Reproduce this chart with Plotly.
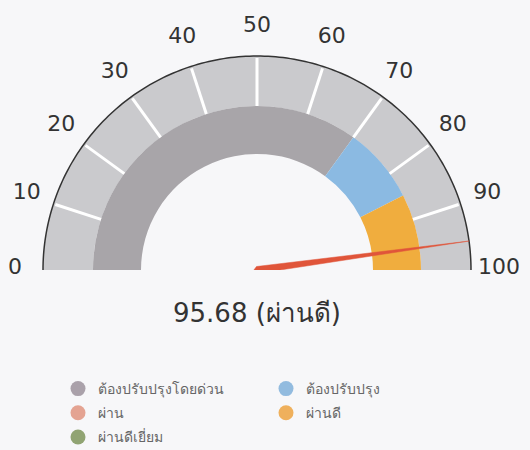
import math
import plotly.graph_objects as go

# ---------------- data ----------------
categories = ["ต้องปรับปรุงโดยด่วน", "ต้องปรับปรุง", "ผ่าน", "ผ่านดี", "ผ่านดีเยี่ยม"]
band_categories = ["ต้องปรับปรุงโดยด่วน", "ต้องปรับปรุง", "ผ่านดี"]
band_starts = [0, 70, 85]
band_ends = [70, 85, 100]
tick_values = [0, 10, 20, 30, 40, 50, 60, 70, 80, 90, 100]
tick_labels = ["0", "10", "20", "30", "40", "50", "60", "70", "80", "90", "100"]
score = 95.68
score_label = "ผ่านดี"

# ---------------- styles ----------------
VMIN, VMAX = 0, 100
DEG = 180.0 / (VMAX - VMIN)
R_OUT, R_MID, R_IN = 214, 164, 116
R_LABEL = 242
LABEL_LIFT = 2
R_RANGE = 255
CX, CY = 257, 270  # pixel centre of the gauge
cat_colors = {
    "ต้องปรับปรุงโดยด่วน": "#a8a5a9",
    "ต้องปรับปรุง": "#8bbae2",
    "ผ่าน": "#e4a08e",
    "ผ่านดี": "#f0ad3e",
    "ผ่านดีเยี่ยม": "#8fa36e",
}
legend_colors = {
    "ต้องปรับปรุงโดยด่วน": "#aaa1aa",
    "ต้องปรับปรุง": "#92bbdf",
    "ผ่าน": "#e4a392",
    "ผ่านดี": "#efb05c",
    "ผ่านดีเยี่ยม": "#91a473",
}
legend_col = {
    "ต้องปรับปรุงโดยด่วน": "legend",
    "ต้องปรับปรุง": "legend2",
    "ผ่าน": "legend",
    "ผ่านดี": "legend2",
    "ผ่านดีเยี่ยม": "legend",
}
LIGHT = "#cacacd"
NEEDLE = "#e0553a"
BG = "#f7f7f9"
FONT = "DejaVu Sans, Noto Sans, sans-serif"


def ang(v):
    return (v - VMIN) * DEG


fig = go.Figure()

# outer light band
fig.add_trace(go.Barpolar(
    r=[R_OUT - R_MID], base=[R_MID], theta=[ang((VMIN + VMAX) / 2)],
    width=[ang(VMAX) - ang(VMIN)], marker=dict(color=LIGHT, line=dict(width=0)),
    showlegend=False, hoverinfo="skip"))

# white tick marks inside the outer band
for v in tick_values[1:-1]:
    fig.add_trace(go.Scatterpolar(
        r=[R_MID, R_OUT - 2], theta=[ang(v), ang(v)], mode="lines",
        line=dict(color="white", width=3), showlegend=False, hoverinfo="skip"))

# coloured bands
for c, s, e in zip(band_categories, band_starts, band_ends):
    fig.add_trace(go.Barpolar(
        r=[R_MID - R_IN], base=[R_IN], theta=[ang((s + e) / 2)],
        width=[ang(e) - ang(s)], marker=dict(color=cat_colors[c], line=dict(width=0)),
        showlegend=False, hoverinfo="skip"))

# outer outline arc of the scale
arc_vals = [VMIN + (VMAX - VMIN) * i / 180 for i in range(181)]
fig.add_trace(go.Scatterpolar(
    r=[R_OUT] * len(arc_vals), theta=[ang(v) for v in arc_vals], mode="lines",
    line=dict(color="#333333", width=1.5), showlegend=False, hoverinfo="skip"))

# tick labels (slightly lifted)
lab_r, lab_t = [], []
for v in tick_values:
    t = math.radians(ang(v))
    x = -R_LABEL * math.cos(t)
    y = R_LABEL * math.sin(t) + LABEL_LIFT
    lab_r.append(math.hypot(x, y))
    lab_t.append(math.degrees(math.atan2(y, -x)))
fig.add_trace(go.Scatterpolar(
    r=lab_r, theta=lab_t,
    mode="text", text=tick_labels, textposition="middle center",
    textfont=dict(size=22, color="#333333", family=FONT),
    cliponaxis=False, showlegend=False, hoverinfo="skip"))

# needle
a = ang(score)
fig.add_trace(go.Scatterpolar(
    r=[3.5, R_OUT, 3.5, 3.5], theta=[a + 90, a, a - 90, a + 180], mode="lines",
    fill="toself", fillcolor=NEEDLE, line=dict(color=NEEDLE, width=0.5),
    showlegend=False, hoverinfo="skip"))

# legend entries
for c in categories:
    fig.add_trace(go.Scatterpolar(
        r=[None], theta=[None], mode="markers", name=c,
        marker=dict(color=legend_colors[c], size=15, symbol="circle"),
        legend=legend_col[c], legendgroup=c, showlegend=True))

fig.update_layout(
    width=530, height=450, autosize=False,
    margin=dict(l=0, r=0, t=0, b=0, autoexpand=False),
    paper_bgcolor=BG, plot_bgcolor=BG,
    font=dict(family=FONT, color="#333333"),
    polar=dict(
        domain=dict(x=[(CX - R_RANGE) / 530, (CX + R_RANGE) / 530],
                    y=[1 - CY / 450, 1 - (CY - R_RANGE) / 450]),
        sector=[0, 180], hole=0, bgcolor="rgba(0,0,0,0)",
        radialaxis=dict(visible=False, range=[0, R_RANGE]),
        angularaxis=dict(
            type="linear",
            direction="clockwise", rotation=180, thetaunit="degrees",
            showticklabels=False, ticks="",
            showgrid=False, showline=False,
        ),
    ),
    legend=dict(x=58 / 530, xanchor="left", y=1 - 373 / 450, yanchor="top",
                orientation="v", tracegroupgap=3, bgcolor="rgba(0,0,0,0)",
                font=dict(size=14, color="#666666"), itemclick=False),
    legend2=dict(x=266 / 530, xanchor="left", y=1 - 373 / 450, yanchor="top",
                 orientation="v", tracegroupgap=3, bgcolor="rgba(0,0,0,0)",
                 font=dict(size=14, color="#666666"), itemclick=False),
    annotations=[dict(
        x=CX / 530, y=1 - 313 / 450, xref="paper", yref="paper",
        text=f"{score:.2f} ({score_label})", showarrow=False,
        font=dict(size=26, color="#333333", family=FONT), xanchor="center", yanchor="middle")],
)

fig.write_html(
    "out.html",
    config={"responsive": False, "displayModeBar": False},
    post_script="document.body.style.margin='0';document.body.style.overflow='hidden';",
)
